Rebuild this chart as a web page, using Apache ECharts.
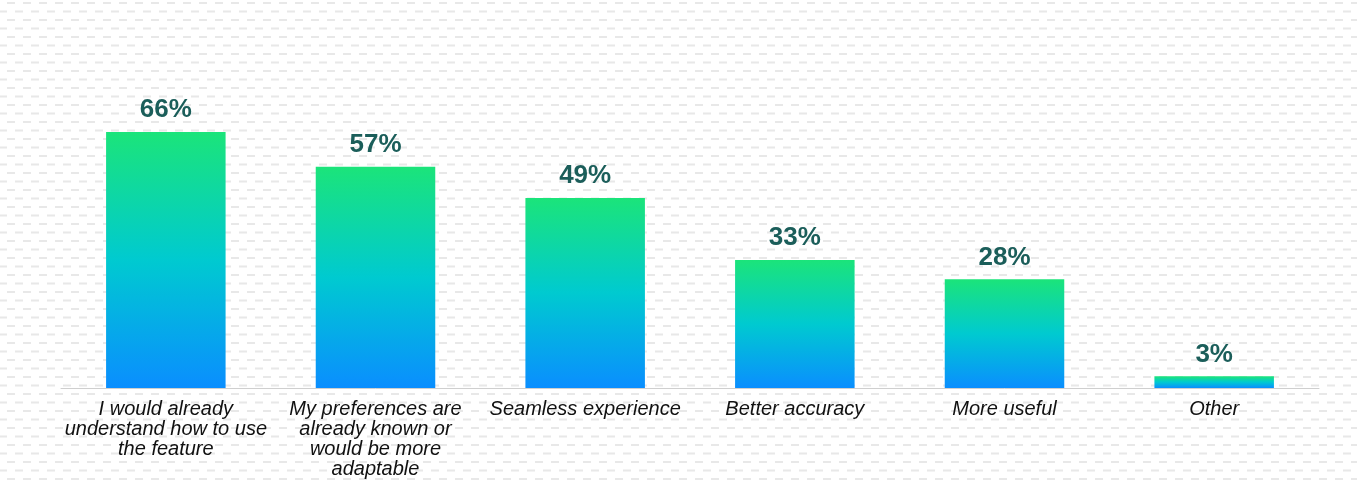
<!DOCTYPE html>
<html>
<head>
<meta charset="utf-8">
<script src="https://cdn.jsdelivr.net/npm/echarts@6/dist/echarts.min.js"></script>
<style>
  html, body { margin: 0; padding: 0; }
  body {
    width: 1357px; height: 483px; overflow: hidden;
    background-color: #ffffff;
    /* light brick-style dashed texture behind the chart */
    background-image: url("data:image/svg+xml;utf8,<svg xmlns='http://www.w3.org/2000/svg' width='16' height='17'><rect x='7' y='2' width='8' height='2' fill='%23e8e8e8'/><rect x='-1' y='10.5' width='8' height='2' fill='%23e8e8e8'/><rect x='15' y='10.5' width='8' height='2' fill='%23e8e8e8'/></svg>");
    background-repeat: repeat;
  }
  #chart { width: 1357px; height: 483px; }
</style>
</head>
<body>
<div id="chart"></div>
<script>
// Reasons given, and the share of respondents choosing each
const categories = [
  'I would already\nunderstand how to use\nthe feature',
  'My preferences are\nalready known or\nwould be more\nadaptable',
  'Seamless experience',
  'Better accuracy',
  'More useful',
  'Other'
];
const shares = [66, 57, 49, 33, 28, 3];

const chart = echarts.init(document.getElementById('chart'), null, { renderer: 'canvas' });

const barGradient = new echarts.graphic.LinearGradient(0, 0, 0, 1, [
  { offset: 0, color: '#1be47a' },
  { offset: 0.5, color: '#00cad0' },
  { offset: 1, color: '#0a8eff' }
]);

chart.setOption({
  backgroundColor: 'transparent',
  animation: false,
  grid: { left: 61, right: 38, top: 0, bottom: 95, containLabel: false },
  xAxis: {
    type: 'category',
    data: categories,
    axisLine: { show: true, lineStyle: { color: '#cfcfcf', width: 1 } },
    axisTick: { show: false },
    axisLabel: {
      interval: 0,
      margin: 11,
      color: '#111111',
      fontFamily: '"Liberation Sans", Arial, sans-serif',
      fontStyle: 'italic',
      fontSize: 20,
      lineHeight: 20
    }
  },
  yAxis: {
    type: 'value',
    min: 0,
    max: 100,
    show: false,
    splitLine: { show: false }
  },
  series: [{
    type: 'bar',
    data: shares,
    barWidth: '57%',
    itemStyle: { color: barGradient },
    label: {
      show: true,
      position: 'top',
      distance: 9,
      formatter: '{c}%',
      color: '#1b5e5a',
      fontFamily: '"Liberation Sans", Arial, sans-serif',
      fontWeight: 'bold',
      fontSize: 26
    }
  }]
});
</script>
</body>
</html>
